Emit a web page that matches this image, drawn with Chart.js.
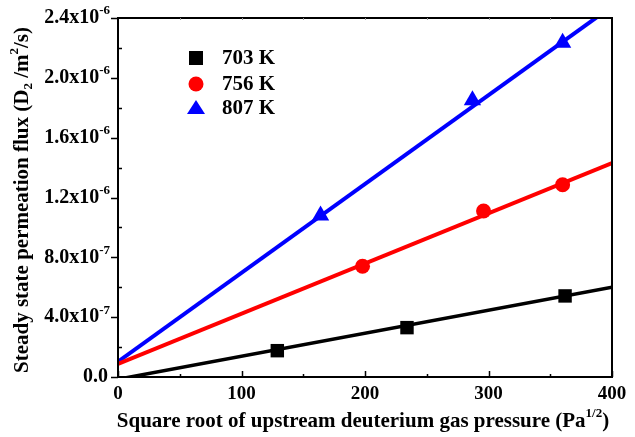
<!DOCTYPE html>
<html>
<head>
<meta charset="utf-8">
<script src="https://cdn.jsdelivr.net/npm/chart.js@4.4.0/dist/chart.umd.min.js"></script>
<style>
  html, body { margin: 0; padding: 0; background: #fff; }
  #wrap { width: 635px; height: 437px; }
</style>
</head>
<body>
<div id="wrap"><canvas id="chart"></canvas></div>
<script>
// measured points
const x703 = [129, 234, 362];
const y703 = [1.76e-7, 3.3e-7, 5.42e-7];
const x756 = [198, 296, 360];
const y756 = [7.4e-7, 1.11e-6, 1.285e-6];
const x807 = [164, 287, 360];
const y807 = [1.08e-6, 1.85e-6, 2.235e-6];
// fitted lines (end points)
const fitX = [0, 400];
const fit703 = [-1.5e-8, 6.0e-7];
const fit756 = [8.7e-8, 1.43e-6];
const fit807 = [1.02e-7, 2.478e-6];
// ticks
const xTicks = [0, 100, 200, 300, 400];
const yTicks = [0, 4e-7, 8e-7, 1.2e-6, 1.6e-6, 2.0e-6, 2.4e-6];
const yMant = ["0.0", "4.0", "8.0", "1.2", "1.6", "2.0", "2.4"];
const yExp = ["", "-7", "-7", "-6", "-6", "-6", "-6"];
const labels = ["703 K", "756 K", "807 K"];
const colors = ["#000000", "#ff0000", "#0000ff"];
const shapes = ["rect", "circle", "triangle"];
const sizes = [9.5, 7.5, 10];

const FONT = "'Liberation Serif', 'Times New Roman', serif";

function pts(xs, ys) {
  return xs.map((x, i) => ({ x: x, y: ys[i] }));
}

const lineSets = [fit703, fit756, fit807].map((f, i) => ({
  label: labels[i] + " fit",
  data: pts(fitX, f),
  showLine: true,
  borderColor: colors[i],
  borderWidth: i == 0 ? 3.5 : 4,
  pointRadius: 0,
  fill: false
}));
const markSets = [[x703, y703], [x756, y756], [x807, y807]].map((d, i) => ({
  label: labels[i],
  data: pts(d[0], d[1]),
  showLine: false,
  pointStyle: shapes[i],
  pointRadius: sizes[i],
  pointBackgroundColor: colors[i],
  pointBorderColor: colors[i],
  pointBorderWidth: 0
}));

// draw text pieces with sub/superscripts
function richWidth(ctx, parts, size) {
  let w = 0;
  for (const p of parts) {
    ctx.font = "bold " + Math.round(size * (p.s || 1)) + "px " + FONT;
    w += ctx.measureText(p.t).width;
  }
  return w;
}
function richDraw(ctx, parts, size, x, y) {
  for (const p of parts) {
    ctx.font = "bold " + Math.round(size * (p.s || 1)) + "px " + FONT;
    ctx.fillText(p.t, x, y + (p.dy || 0));
    x += ctx.measureText(p.t).width;
  }
}

const decor = {
  id: "decor",
  afterDatasetsDraw(chart) {
    const ctx = chart.ctx;
    const a = chart.chartArea;
    const xs = chart.scales.x, ys = chart.scales.y;
    ctx.save();
    ctx.strokeStyle = "#000";
    ctx.lineWidth = 2;
    ctx.strokeRect(a.left, a.top, a.right - a.left, a.bottom - a.top);

    // y ticks: major outward, minor inward
    ctx.lineWidth = 1.5;
    ctx.beginPath();
    for (let v = 0; v <= 2.4e-6 + 1e-12; v += 2e-7) {
      const py = Math.round(ys.getPixelForValue(v)) + 0.5;
      const major = Math.round(v / 2e-7) % 2 == 0;
      if (major) { ctx.moveTo(a.left - 7, py); ctx.lineTo(a.left, py); }
      else { ctx.moveTo(a.left, py); ctx.lineTo(a.left + 4, py); }
    }
    // x ticks: inward
    for (let v = 0; v <= 400; v += 50) {
      const px = Math.round(xs.getPixelForValue(v)) + 0.5;
      const len = v % 100 == 0 ? 6 : 3;
      ctx.moveTo(px, a.bottom); ctx.lineTo(px, a.bottom - len);
    }
    ctx.stroke();
    ctx.strokeStyle = "#999";
    ctx.lineWidth = 1;
    ctx.beginPath();
    for (let v = 50; v < 400; v += 50) {
      const px = Math.round(xs.getPixelForValue(v)) + 0.5;
      ctx.moveTo(px, a.top); ctx.lineTo(px, a.top + 2);
    }
    ctx.stroke();

    ctx.fillStyle = "#000";
    ctx.textBaseline = "middle";
    // y tick labels
    yTicks.forEach((v, i) => {
      const py = ys.getPixelForValue(v);
      const parts = yExp[i] ? [{ t: yMant[i] + "x10" }, { t: yExp[i], s: 0.65, dy: -7 }] : [{ t: yMant[i] }];
      const w = richWidth(ctx, parts, 19.5);
      ctx.textAlign = "left";
      richDraw(ctx, parts, 19.5, (yExp[i] ? 110 : 108) - w, py);
    });
    // x tick labels
    ctx.textAlign = "center";
    ctx.font = "bold 19px " + FONT;
    xTicks.forEach(v => ctx.fillText(String(v), xs.getPixelForValue(v), 394));

    // axis titles
    ctx.textAlign = "left";
    const xt = [{ t: "Square root of upstream deuterium gas pressure (Pa" }, { t: "1/2", s: 0.62, dy: -8 }, { t: ")" }];
    const xw = richWidth(ctx, xt, 20.5);
    richDraw(ctx, xt, 20.5, (a.left + a.right) / 2 - xw / 2 - 2, 422);

    const yt = [{ t: "Steady state permeation flux (D" }, { t: "2", s: 0.62, dy: 6 }, { t: " /m" }, { t: "2", s: 0.62, dy: -8 }, { t: "/s)" }];
    const yw = richWidth(ctx, yt, 20.5);
    ctx.save();
    ctx.translate(23, 200);
    ctx.rotate(-Math.PI / 2);
    richDraw(ctx, yt, 20.5, -yw / 2, 0);
    ctx.restore();

    // legend
    const ly = [58, 84, 108];
    labels.forEach((l, i) => {
      const cx = 196, cy = ly[i];
      ctx.fillStyle = colors[i];
      ctx.beginPath();
      if (shapes[i] == "rect") ctx.rect(cx - 7, cy - 7, 14, 14);
      else if (shapes[i] == "circle") ctx.arc(cx, cy, 7.5, 0, Math.PI * 2);
      else { ctx.moveTo(cx, cy - 8); ctx.lineTo(cx + 9, cy + 6); ctx.lineTo(cx - 9, cy + 6); ctx.closePath(); }
      ctx.fill();
      ctx.fillStyle = "#000";
      ctx.font = "bold 21px " + FONT;
      ctx.fillText(l, 222, cy + 1);
    });
    ctx.restore();
  }
};

new Chart(document.getElementById("chart"), {
  type: "scatter",
  data: { datasets: [...lineSets, ...markSets] },
  options: {
    responsive: true,
    maintainAspectRatio: false,
    animation: false,
    layout: { padding: { top: 18, right: 23, left: 0, bottom: 0 } },
    plugins: { legend: { display: false }, tooltip: { enabled: false } },
    scales: {
      x: {
        type: "linear", min: 0, max: 400,
        grid: { display: false }, border: { display: false },
        ticks: { display: false, stepSize: 100 },
        afterFit(s) { s.height = 60; }
      },
      y: {
        type: "linear", min: 0, max: 2.4e-6,
        grid: { display: false }, border: { display: false },
        ticks: { display: false, stepSize: 4e-7 },
        afterFit(s) { s.width = 118; }
      }
    }
  },
  plugins: [decor]
});
</script>
</body>
</html>
